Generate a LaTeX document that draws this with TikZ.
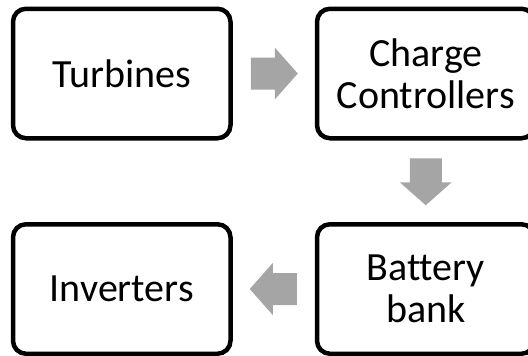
\documentclass[tikz,border=0pt]{standalone}
\usepackage{fontspec}
\setmainfont[Ligatures=NoCommon]{Carlito}
\usetikzlibrary{calc}
\definecolor{arrowgray}{HTML}{A5A5A5}
\begin{document}
\begin{tikzpicture}[x=1pt,y=-1pt,
  stagebox/.style={draw=black, line width=4.5pt, rounded corners=13pt,
    minimum width=217.5pt, minimum height=129.5pt, inner sep=0pt,
    align=center, font=\fontsize{40}{42}\selectfont, fill=white},
  blockarrow/.pic={\fill[arrowgray] (-23,-16) -- (1,-16) -- (1,-26) -- (24,0) -- (1,26) -- (1,16) -- (-23,16) -- cycle;}]
\useasboundingbox (0,0) rectangle (528,356);
\clip (0,0) rectangle (528,356);
\node[stagebox] (tur) at (121.75,73.5) {Turbines};
\node[stagebox] (cc) at (425.75,73.5) {Charge\\Controllers};
\node[stagebox] (bat) at (425.75,289) {Battery\\bank};
\node[stagebox] (inv) at (121.75,289) {Inverters};
\pic at ($(tur.east)!0.5!(cc.west)$) {blockarrow};
\pic[rotate=-90] at ($(cc.south)!0.5!(bat.north)$) {blockarrow};
\pic[rotate=180] at ($(bat.west)!0.5!(inv.east)$) {blockarrow};
\end{tikzpicture}
\end{document}
